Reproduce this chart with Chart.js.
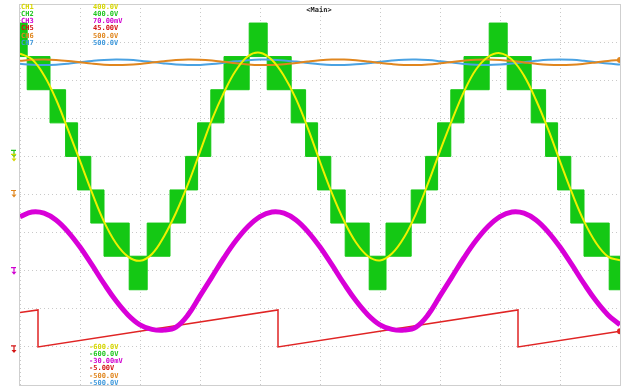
<!DOCTYPE html>
<html>
<head>
<meta charset="utf-8">
<script src="https://cdn.jsdelivr.net/npm/chart.js@4.4.0/dist/chart.umd.min.js"></script>
<style>
  html, body { margin: 0; padding: 0; background: #ffffff; }
  canvas { display: block; }
</style>
</head>
<body>
<canvas id="scope" width="632" height="390"></canvas>
<script>
// ---- Acquisition: 5 ms/div, 10 divisions ----
const sampleTimes = [0,1,2,3,4,5,6,7,8,9,10,11,12,13,14,15,16,17,18,19,20,21,22,23,24,25,
  26,27,28,29,30,31,32,33,34,35,36,37,38,39,40,41,42,43,44,45,46,47,48,49,50];

// CH1 grid voltage (V)
const ch1Volts = [270,255,213,150,70,-12,-95,-171,-228,-263,-274,-256,-210,-148,-73,12,97,168,226,263,
  272,253,211,151,73,-14,-97,-169,-226,-262,-273,-255,-213,-150,-71,14,95,170,228,261,
  271,254,212,148,72,-13,-96,-170,-227,-263,-273];

// CH2 multilevel output: each switching band runs from ch2Edges[i] to ch2Edges[i+1]
const ch2Edges = [0,0.6,2.5,3.8,4.8,5.9,7.0,9.1,10.6,12.5,13.8,14.8,15.9,17.0,19.1,20.6,22.6,23.8,24.8,
  25.9,27.1,29.1,30.5,32.6,33.8,34.8,35.9,37.0,39.1,40.6,42.6,43.8,44.8,45.9,47.0,49.1,50];
const ch2Upper = [350,262,175,88,0,-88,-175,-262,-175,-88,0,88,175,262,350,262,175,88,0,-88,-175,-262,
  -175,-88,0,88,175,262,350,262,175,88,0,-88,-175,-262];
const ch2Lower = [262,175,88,0,-88,-175,-262,-350,-262,-175,-88,0,88,175,262,175,88,0,-88,-175,-262,-350,
  -262,-175,-88,0,88,175,262,175,88,0,-88,-175,-262,-350];

// CH3 current probe (mV)
const ch3MilliVolts = [14.2,15.4,15.1,13.3,10.2,6.2,1.5,-3.4,-7.9,-11.6,-14.2,-15.4,-15.6,-14.8,-11.6,-6.6,
  -1.6,3.4,7.9,11.6,14.2,15.4,15.1,13.3,10.2,6.2,1.5,-3.4,-7.9,-11.6,-14.2,-15.4,-15.6,-14.8,-11.6,-6.6,
  -1.6,3.4,7.9,11.6,14.2,15.4,15.1,13.3,10.2,6.2,1.5,-3.4,-7.9,-11.6,-14.2];

// CH5 sync ramp (V)
const ch5Times = [0,1.5,1.5,21.5,21.5,41.5,41.5,50];
const ch5Volts = [4.5,4.85,0,4.85,0,4.85,0,2.05];

// CH6 / CH7 DC-link capacitor voltages (V)
const ch6Volts = [351.0,353.5,354.4,353.3,350.7,347.1,343.5,340.8,339.7,340.4,342.8,346.3,350.0,352.9,354.3,
  353.8,351.6,348.2,344.5,341.5,339.8,340.0,342.0,345.2,349.0,352.2,354.1,354.2,352.4,349.3,345.6,342.3,
  340.1,339.7,341.2,344.2,347.8,351.3,353.7,354.3,353.1,350.4,346.7,343.2,340.6,339.7,340.6,343.2,346.7,
  350.4,353.1];
const ch7Volts = [343.0,340.5,339.7,340.7,343.3,346.9,350.5,353.2,354.3,353.6,351.2,347.7,344.0,341.1,339.7,
  340.2,342.4,345.8,349.5,352.5,354.2,354.0,352.0,348.8,345.0,341.8,339.9,339.8,341.6,344.7,348.4,351.7,
  353.9,354.3,352.8,349.8,346.2,342.7,340.3,339.7,340.9,343.6,347.3,350.8,353.4,354.3,353.4,350.8,347.3,
  343.6,340.9];

// Channel readouts
const channelNames  = ['CH1','CH2','CH3','CH5','CH6','CH7'];
const channelTop    = ['400.0V','400.0V','70.00mV','45.00V','500.0V','500.0V'];
const channelBottom = ['-600.0V','-600.0V','-30.00mV','-5.00V','-500.0V','-500.0V'];
const channelMin    = [-600,-600,-30,-5,-500,-500];
const channelMax    = [400,400,70,45,500,500];
const channelColors = ['#d6d600','#1fc51f','#d000d0','#d41414','#e0861e','#3d98dc'];
const channelAxes   = ['y1','y2','y3','y5','y6','y7'];

const toPoints = (xs, ys) => xs.map((x, i) => ({ x: x, y: ys[i] }));
const bandPoints = (edges, levels) => {
  const p = levels.map((v, i) => ({ x: edges[i], y: v }));
  p.push({ x: edges[edges.length - 1], y: levels[levels.length - 1] });
  return p;
};

const scales = {
  x: {
    type: 'linear', min: 0, max: 50,
    ticks: { display: false, stepSize: 5 },
    grid: { color: '#c9c9c9', drawTicks: false, lineWidth: 1 },
    border: { display: false, dash: [1, 3] }
  }
};
channelAxes.forEach((id, i) => {
  scales[id] = {
    type: 'linear', min: channelMin[i], max: channelMax[i],
    display: id === 'y6', position: 'left',
    ticks: { display: false, stepSize: (channelMax[i] - channelMin[i]) / 10 },
    grid: { color: '#c9c9c9', drawTicks: false, lineWidth: 1 },
    border: { display: false, dash: [1, 3] }
  };
});

const lastDot = (n, r) => Array.from({ length: n }, (_, i) => (i === n - 1 ? r : 0));

const datasets = [
  { label: 'CH1', yAxisID: 'y1', data: toPoints(sampleTimes, ch1Volts),
    borderColor: '#f0f000', borderWidth: 2, tension: 0.4, pointRadius: 0, fill: false },
  { label: 'CH6', yAxisID: 'y6', data: toPoints(sampleTimes, ch6Volts),
    borderColor: '#e0861e', borderWidth: 2, tension: 0.4, fill: false,
    pointRadius: lastDot(sampleTimes.length, 3), pointBackgroundColor: '#e0861e', pointBorderWidth: 0 },
  { label: 'CH7', yAxisID: 'y7', data: toPoints(sampleTimes, ch7Volts),
    borderColor: '#4aa2e2', borderWidth: 2, tension: 0.4, pointRadius: 0, fill: false },
  { label: 'CH3', yAxisID: 'y3', data: toPoints(sampleTimes, ch3MilliVolts),
    borderColor: '#d800d8', borderWidth: 5, tension: 0.4, pointRadius: 0, fill: false },
  { label: 'CH5', yAxisID: 'y5', data: toPoints(ch5Times, ch5Volts),
    borderColor: '#e02424', borderWidth: 1.5, tension: 0, fill: false,
    pointRadius: lastDot(ch5Times.length, 3), pointBackgroundColor: '#e02424', pointBorderWidth: 0 },
  { label: 'CH2 upper', yAxisID: 'y2', data: bandPoints(ch2Edges, ch2Upper), stepped: 'before',
    borderColor: '#14c814', borderWidth: 1, pointRadius: 0, fill: false },
  { label: 'CH2 lower', yAxisID: 'y2', data: bandPoints(ch2Edges, ch2Lower), stepped: 'before',
    borderColor: '#14c814', borderWidth: 1, pointRadius: 0, fill: '-1', backgroundColor: '#14c814' }
];

// Frame, ground markers and channel readouts
const scopeDecor = {
  id: 'scopeDecor',
  afterDraw(chart) {
    const ctx = chart.ctx;
    const a = chart.chartArea;
    ctx.save();
    ctx.strokeStyle = '#cfcfcf';
    ctx.lineWidth = 1;
    ctx.strokeRect(a.left - 0.5, a.top + 0.5, a.right - a.left + 1, a.bottom - a.top);

    const marker = (y, color) => {
      const x = 14;
      ctx.strokeStyle = color; ctx.fillStyle = color; ctx.lineWidth = 1.2;
      ctx.beginPath();
      ctx.moveTo(x - 3, y - 3); ctx.lineTo(x + 2, y - 3);
      ctx.moveTo(x, y - 3); ctx.lineTo(x, y + 1);
      ctx.stroke();
      ctx.beginPath();
      ctx.moveTo(x - 2.5, y + 1); ctx.lineTo(x + 2.5, y + 1); ctx.lineTo(x, y + 4);
      ctx.closePath(); ctx.fill();
    };
    const zero = id => chart.scales[id].getPixelForValue(0);
    marker(zero('y6') - 1, channelColors[4]);
    marker(zero('y3'), channelColors[2]);
    marker(zero('y5') + 2, channelColors[3]);
    marker(zero('y2') - 3, channelColors[1]);
    marker(zero('y1') + 1, channelColors[0]);

    ctx.font = 'bold 7px "DejaVu Sans Mono", monospace';
    ctx.textBaseline = 'middle';
    ctx.textAlign = 'left';
    channelNames.forEach((name, i) => {
      ctx.fillStyle = channelColors[i];
      ctx.fillText(name, 21, 7 + i * 7.2);
      ctx.fillText(channelTop[i], 93, 7 + i * 7.2);
      ctx.fillText(channelBottom[i], 89, 347 + i * 7.2);
    });
    ctx.fillStyle = '#222222';
    ctx.textAlign = 'center';
    ctx.fillText('<Main>', 319, 10);
    ctx.restore();
  }
};

new Chart(document.getElementById('scope'), {
  type: 'line',
  data: { datasets: datasets },
  options: {
    responsive: false,
    animation: false,
    devicePixelRatio: 1,
    layout: { padding: { left: 20, right: 12, top: 4, bottom: 5 } },
    plugins: { legend: { display: false }, tooltip: { enabled: false } },
    scales: scales
  },
  plugins: [scopeDecor]
});
</script>
</body>
</html>
